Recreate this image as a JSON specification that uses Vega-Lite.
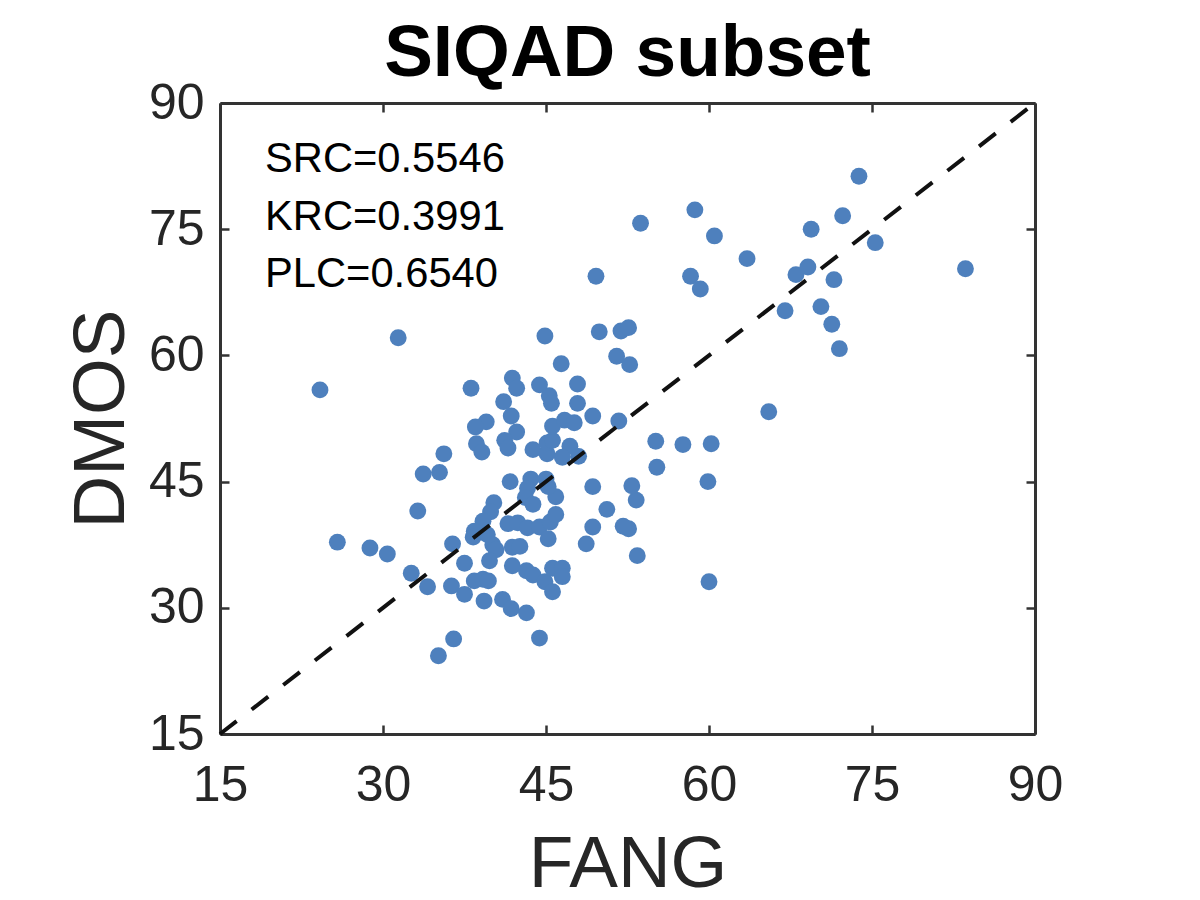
{
  "$schema": "https://vega.github.io/schema/vega-lite/v6.json",
  "background": "white",
  "autosize": "none",
  "padding": {"left": 220, "top": 103, "right": 165, "bottom": 166},
  "width": 815,
  "height": 631,
  "title": {
    "text": "SIQAD subset",
    "font": "Liberation Sans",
    "fontSize": 73,
    "fontWeight": "bold",
    "color": "black",
    "anchor": "middle",
    "offset": -13
  },
  "config": {
    "view": {"stroke": null},
    "axis": {
      "grid": false,
      "domainColor": "#333333",
      "domainWidth": 3,
      "tickColor": "#333333",
      "tickWidth": 2.5,
      "tickSize": -9,
      "labelFont": "Liberation Sans",
      "labelFontSize": 50,
      "labelColor": "#262626",
      "titleFont": "Liberation Sans",
      "titleFontSize": 73,
      "titleFontWeight": "normal",
      "titleColor": "#262626"
    }
  },
  "resolve": {"axis": {"x": "independent", "y": "independent"}},
  "layer": [
    {
      "data": {
        "values": [
          {"fang": 31.4, "dmos": 62.1}, {"fang": 24.2, "dmos": 55.9}, {"fang": 38.1, "dmos": 56.1},
          {"fang": 41.9, "dmos": 57.3}, {"fang": 42.3, "dmos": 56.1}, {"fang": 41.1, "dmos": 54.5},
          {"fang": 41.8, "dmos": 52.8}, {"fang": 44.4, "dmos": 56.5}, {"fang": 45.3, "dmos": 55.2},
          {"fang": 45.5, "dmos": 54.3}, {"fang": 46.4, "dmos": 59.0}, {"fang": 47.9, "dmos": 56.6},
          {"fang": 47.9, "dmos": 54.3}, {"fang": 44.9, "dmos": 62.3}, {"fang": 49.3, "dmos": 52.8},
          {"fang": 39.5, "dmos": 52.1}, {"fang": 38.5, "dmos": 51.5}, {"fang": 42.3, "dmos": 50.9},
          {"fang": 41.2, "dmos": 49.9}, {"fang": 41.5, "dmos": 49.0}, {"fang": 38.6, "dmos": 49.5},
          {"fang": 39.1, "dmos": 48.5}, {"fang": 35.6, "dmos": 48.3}, {"fang": 35.2, "dmos": 46.1},
          {"fang": 33.7, "dmos": 45.9}, {"fang": 33.2, "dmos": 41.5}, {"fang": 25.8, "dmos": 37.8},
          {"fang": 28.8, "dmos": 37.1}, {"fang": 30.4, "dmos": 36.4}, {"fang": 32.6, "dmos": 34.1},
          {"fang": 34.1, "dmos": 32.5}, {"fang": 36.4, "dmos": 37.6}, {"fang": 37.5, "dmos": 35.3},
          {"fang": 36.3, "dmos": 32.6}, {"fang": 37.5, "dmos": 31.6}, {"fang": 39.3, "dmos": 30.8},
          {"fang": 38.4, "dmos": 33.2}, {"fang": 39.2, "dmos": 33.4}, {"fang": 39.7, "dmos": 33.2},
          {"fang": 41.0, "dmos": 31.0}, {"fang": 41.8, "dmos": 29.9}, {"fang": 43.2, "dmos": 29.4},
          {"fang": 36.5, "dmos": 26.3}, {"fang": 35.1, "dmos": 24.3}, {"fang": 44.4, "dmos": 26.4},
          {"fang": 41.7, "dmos": 45.0}, {"fang": 43.6, "dmos": 45.3}, {"fang": 45.0, "dmos": 45.3},
          {"fang": 43.3, "dmos": 44.2}, {"fang": 43.1, "dmos": 43.1}, {"fang": 43.8, "dmos": 42.3},
          {"fang": 45.9, "dmos": 43.2}, {"fang": 45.2, "dmos": 44.4}, {"fang": 40.2, "dmos": 42.5},
          {"fang": 39.9, "dmos": 41.4}, {"fang": 39.2, "dmos": 40.3}, {"fang": 38.4, "dmos": 39.1},
          {"fang": 38.3, "dmos": 38.4}, {"fang": 39.6, "dmos": 38.7}, {"fang": 40.1, "dmos": 37.5},
          {"fang": 40.4, "dmos": 36.9}, {"fang": 39.8, "dmos": 35.6}, {"fang": 41.5, "dmos": 40.0},
          {"fang": 42.4, "dmos": 40.1}, {"fang": 43.3, "dmos": 39.5}, {"fang": 44.4, "dmos": 39.6},
          {"fang": 45.4, "dmos": 40.2}, {"fang": 45.9, "dmos": 41.1}, {"fang": 45.2, "dmos": 38.2},
          {"fang": 41.9, "dmos": 37.2}, {"fang": 42.6, "dmos": 37.3}, {"fang": 41.9, "dmos": 35.0},
          {"fang": 43.2, "dmos": 34.4}, {"fang": 43.8, "dmos": 33.9}, {"fang": 44.9, "dmos": 33.1},
          {"fang": 45.6, "dmos": 34.7}, {"fang": 46.5, "dmos": 34.7}, {"fang": 46.5, "dmos": 33.7},
          {"fang": 45.6, "dmos": 31.9}, {"fang": 49.3, "dmos": 39.6}, {"fang": 48.7, "dmos": 37.6},
          {"fang": 49.3, "dmos": 44.4}, {"fang": 50.6, "dmos": 41.7}, {"fang": 43.8, "dmos": 48.8},
          {"fang": 45.1, "dmos": 48.3}, {"fang": 45.1, "dmos": 49.6}, {"fang": 45.6, "dmos": 49.9},
          {"fang": 45.6, "dmos": 51.6}, {"fang": 46.7, "dmos": 52.3}, {"fang": 47.6, "dmos": 52.0},
          {"fang": 47.2, "dmos": 49.2}, {"fang": 46.5, "dmos": 47.9}, {"fang": 48.0, "dmos": 48.0},
          {"fang": 49.6, "dmos": 69.4}, {"fang": 49.9, "dmos": 62.8}, {"fang": 51.9, "dmos": 62.9},
          {"fang": 52.6, "dmos": 63.3}, {"fang": 51.5, "dmos": 59.9}, {"fang": 52.7, "dmos": 58.9},
          {"fang": 51.7, "dmos": 52.2}, {"fang": 53.7, "dmos": 75.7}, {"fang": 58.7, "dmos": 77.3},
          {"fang": 60.5, "dmos": 74.2}, {"fang": 63.5, "dmos": 71.5}, {"fang": 58.3, "dmos": 69.4},
          {"fang": 59.2, "dmos": 67.9}, {"fang": 68.0, "dmos": 69.6}, {"fang": 69.1, "dmos": 70.5},
          {"fang": 69.4, "dmos": 75.0}, {"fang": 72.3, "dmos": 76.6}, {"fang": 73.8, "dmos": 81.3},
          {"fang": 75.3, "dmos": 73.4}, {"fang": 83.6, "dmos": 70.3}, {"fang": 71.5, "dmos": 69.0},
          {"fang": 70.3, "dmos": 65.8}, {"fang": 67.0, "dmos": 65.3}, {"fang": 71.3, "dmos": 63.7},
          {"fang": 72.0, "dmos": 60.8}, {"fang": 65.5, "dmos": 53.3}, {"fang": 57.6, "dmos": 49.4},
          {"fang": 60.2, "dmos": 49.5}, {"fang": 55.1, "dmos": 49.8}, {"fang": 55.2, "dmos": 46.7},
          {"fang": 59.9, "dmos": 45.0}, {"fang": 60.0, "dmos": 33.1}, {"fang": 53.4, "dmos": 36.2},
          {"fang": 52.6, "dmos": 39.4}, {"fang": 52.1, "dmos": 39.7}, {"fang": 53.3, "dmos": 42.8},
          {"fang": 52.9, "dmos": 44.5}
        ]
      },
      "mark": {"type": "point", "filled": true, "shape": "circle", "size": 285, "color": "#4E80BD", "opacity": 1},
      "encoding": {
        "x": {
          "field": "fang",
          "type": "quantitative",
          "title": "FANG",
          "scale": {"domain": [15, 90], "nice": false},
          "axis": {"orient": "bottom", "values": [15, 30, 45, 60, 75, 90], "labelPadding": 35, "titlePadding": 18, "labelFlush": false, "labelOverlap": false}
        },
        "y": {
          "field": "dmos",
          "type": "quantitative",
          "title": "DMOS",
          "scale": {"domain": [15, 90], "nice": false},
          "axis": {"orient": "left", "values": [15, 30, 45, 60, 75, 90], "labelPadding": 25, "titlePadding": 10, "labelFlush": false, "labelOverlap": false}
        }
      }
    },
    {
      "data": {"values": [{"fang": 15, "dmos": 15}, {"fang": 90, "dmos": 90}]},
      "mark": {"type": "line", "color": "#111111", "strokeWidth": 4, "strokeDash": [21, 19]},
      "encoding": {
        "x": {
          "field": "fang",
          "type": "quantitative",
          "scale": {"domain": [15, 90], "nice": false},
          "axis": {"orient": "top", "values": [15, 30, 45, 60, 75, 90], "labels": false, "title": null}
        },
        "y": {
          "field": "dmos",
          "type": "quantitative",
          "scale": {"domain": [15, 90], "nice": false},
          "axis": {"orient": "right", "values": [15, 30, 45, 60, 75, 90], "labels": false, "title": null}
        }
      }
    },
    {
      "data": {
        "values": [
          {"fang": 19.14, "dmos": 83.4, "label": "SRC=0.5546"},
          {"fang": 19.14, "dmos": 76.45, "label": "KRC=0.3991"},
          {"fang": 19.14, "dmos": 69.65, "label": "PLC=0.6540"}
        ]
      },
      "mark": {"type": "text", "align": "left", "baseline": "middle", "font": "Liberation Sans", "fontSize": 41.7, "color": "black"},
      "encoding": {
        "x": {"field": "fang", "type": "quantitative", "scale": {"domain": [15, 90], "nice": false}, "axis": null},
        "y": {"field": "dmos", "type": "quantitative", "scale": {"domain": [15, 90], "nice": false}, "axis": null},
        "text": {"field": "label", "type": "nominal"}
      }
    }
  ]
}
